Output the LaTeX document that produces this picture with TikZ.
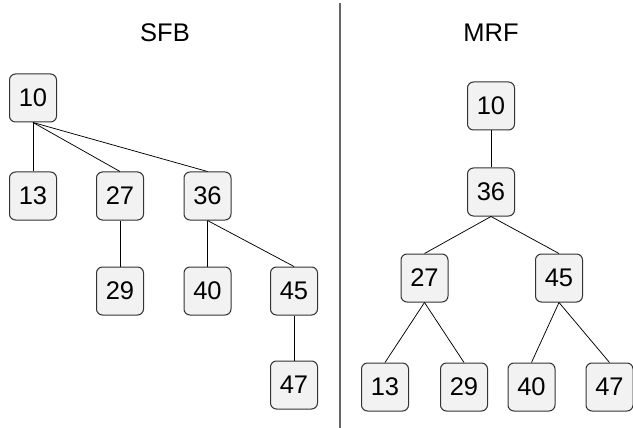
\documentclass[tikz,border=0pt]{standalone}
\usepackage{fontspec}
\setmainfont{Liberation Sans}
\definecolor{boxfill}{HTML}{F2F2F2}
\definecolor{boxline}{HTML}{333333}
\definecolor{divider}{HTML}{666666}
\begin{document}
\begin{tikzpicture}[x=1pt,y=-1pt,
  keybox/.style={draw=boxline,fill=boxfill,rounded corners=6pt,line width=1pt,
    minimum width=47pt,minimum height=48pt,inner sep=0pt,font=\fontsize{25.5}{28}\selectfont},
  title/.style={font=\fontsize{25.5}{28}\selectfont,inner sep=0pt},
  edge/.style={draw=black,line width=0.75pt}]
\useasboundingbox (0,0) rectangle (633,428);
\draw[divider,line width=1.3pt] (340,3) coordinate (dtop) -- (340,428) coordinate (dbot);
\node[title] (tsfb) at (165,33) {SFB};
\node[title] (tmrf) at (491,33) {MRF};
% SFB
\node[keybox] (a10) at (33,98) {10};
\node[keybox] (a13) at (33,196) {13};
\node[keybox] (a27) at (120,196) {27};
\node[keybox] (a36) at (207.5,196) {36};
\node[keybox] (a29) at (120,291) {29};
\node[keybox] (a40) at (207.5,291) {40};
\node[keybox] (a45) at (294,291) {45};
\node[keybox] (a47) at (294,385) {47};
\draw[edge] (a10.south) -- (a13.north);
\draw[edge] (a10.south) -- (a27.north);
\draw[edge] (a10.south) -- (a36.north);
\draw[edge] (a27.south) -- (a29.north);
\draw[edge] (a36.south) -- (a40.north);
\draw[edge] (a36.south) -- (a45.north);
\draw[edge] (a45.south) -- (a47.north);
% MRF
\node[keybox] (b10) at (491,106) {10};
\node[keybox] (b36) at (491,192) {36};
\node[keybox] (b27) at (424.5,278) {27};
\node[keybox] (b45) at (559,278) {45};
\node[keybox] (b13) at (385,387) {13};
\node[keybox] (b29) at (464,387) {29};
\node[keybox] (b40) at (531.5,387) {40};
\node[keybox] (b47) at (609.5,387) {47};
\draw[edge] (b10.south) -- (b36.north);
\draw[edge] (b36.south) -- (b27.north);
\draw[edge] (b36.south) -- (b45.north);
\draw[edge] (b27.south) -- (b13.north);
\draw[edge] (b27.south) -- (b29.north);
\draw[edge] (b45.south) -- (b40.north);
\draw[edge] (b45.south) -- (b47.north);
\end{tikzpicture}
\end{document}
